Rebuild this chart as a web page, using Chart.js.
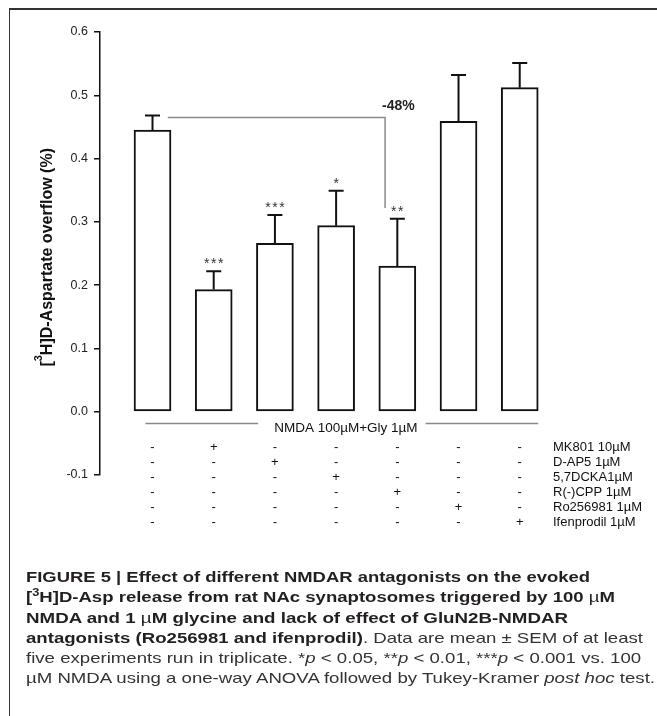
<!DOCTYPE html>
<html>
<head>
<meta charset="utf-8">
<script src="https://cdn.jsdelivr.net/npm/chart.js@4.4.1/dist/chart.umd.min.js"></script>
<style>
  html, body { margin: 0; padding: 0; background: #fff; }
  #wrap { position: relative; width: 657px; height: 716px; overflow: hidden; }
  #chart { position: absolute; left: 0; top: 0; }
  .frame { position: absolute; left: 9px; top: 8px; width: 700px; height: 760px;
           border-top: 2px solid #333; border-left: 1.5px solid #333; }
  .caption { position: absolute; left: 26px; top: 567px; font-family: 'Liberation Sans', Arial, sans-serif;
             font-size: 14.5px; line-height: 20.3px; color: #333; white-space: nowrap; }
  .caption div { transform-origin: 0 0; width: max-content; }
  .caption b { color: #231f20; }
  .caption .mu { font-weight: normal; }
  .caption sup { font-size: 10px; line-height: 0; }
</style>
</head>
<body>
<div id="wrap">
  <div class="frame"></div>
  <canvas id="chart" width="657" height="716"></canvas>
  <div class="caption" id="caption">
    <div data-end="590"><b>FIGURE 5 | Effect of different NMDAR antagonists on the evoked</b></div>
    <div data-end="615"><b>[<sup>3</sup>H]D-Asp release from rat NAc synaptosomes triggered by 100 <span class="mu">µ</span>M</b></div>
    <div data-end="568"><b>NMDA and 1 <span class="mu">µ</span>M glycine and lack of effect of GluN2B-NMDAR</b></div>
    <div data-end="643"><b>antagonists (Ro256981 and ifenprodil)</b>. Data are mean ± SEM of at least</div>
    <div data-like="5">five experiments run in triplicate. *<i>p</i> &lt; 0.05, **<i>p</i> &lt; 0.01, ***<i>p</i> &lt; 0.001 vs. 100</div>
    <div data-end="655">µM NMDA using a one-way ANOVA followed by Tukey-Kramer <i>post hoc</i> test.</div>
  </div>
</div>
<script>
'use strict';

// ---- data ----
const categories = ['NMDA', 'MK801', 'D-AP5', '5,7DCKA', 'R(-)CPP', 'Ro256981', 'Ifenprodil'];
const overflow   = [0.445, 0.193, 0.266, 0.294, 0.230, 0.459, 0.512];
const sem        = [0.023, 0.029, 0.045, 0.055, 0.075, 0.073, 0.039];
const stars      = ['', '***', '***', '*', '**', '', ''];
const yTicks     = [-0.1, 0.0, 0.1, 0.2, 0.3, 0.4, 0.5, 0.6];

const treatments = ['MK801 10µM', 'D-AP5 1µM', '5,7DCKA1µM', 'R(-)CPP 1µM', 'Ro256981 1µM', 'Ifenprodil 1µM'];
// one row per treatment, one sign per bar
const signs = [
  ['-', '+', '-', '-', '-', '-', '-'],
  ['-', '-', '+', '-', '-', '-', '-'],
  ['-', '-', '-', '+', '-', '-', '-'],
  ['-', '-', '-', '-', '+', '-', '-'],
  ['-', '-', '-', '-', '-', '+', '-'],
  ['-', '-', '-', '-', '-', '-', '+'],
];
const stimulus = 'NMDA 100µM+Gly 1µM';

// -48% bracket: NMDA bar vs R(-)CPP bar
const bracket = { from: 0, to: 4, level: 0.465, drop: 0.322, label: '-48%', labelAt: 0.483 };

const FONT = '"Liberation Sans", Arial, sans-serif';
const ink = '#111';

const annotate = {
  id: 'annotate',
  afterDatasetsDraw(chart) {
    const { ctx } = chart;
    const xs = chart.scales.x, ys = chart.scales.y;
    ctx.save();

    // error bars (upper whisker only)
    ctx.strokeStyle = ink;
    ctx.lineWidth = 2;
    overflow.forEach((v, i) => {
      const x = xs.getPixelForValue(i);
      const y0 = ys.getPixelForValue(v);
      const y1 = ys.getPixelForValue(v + sem[i]);
      ctx.beginPath();
      ctx.moveTo(x, y0); ctx.lineTo(x, y1);
      ctx.moveTo(x - 7.5, y1); ctx.lineTo(x + 7.5, y1);
      ctx.stroke();

      // significance stars
      if (stars[i]) {
        ctx.fillStyle = '#333';
        ctx.font = '14px ' + FONT;
        ctx.textAlign = 'center';
        ctx.textBaseline = 'alphabetic';
        const n = stars[i].length;
        for (let k = 0; k < n; k++) {
          ctx.fillText('*', x + (k - (n - 1) / 2) * 7, y1 - 3);
        }
      }
    });

    // bracket
    const bx0 = xs.getPixelForValue(bracket.from + 0.25);
    const bx1 = xs.getPixelForValue(bracket.to - 0.2);
    const by = ys.getPixelForValue(bracket.level);
    ctx.strokeStyle = '#8a8a8a';
    ctx.lineWidth = 1.5;
    ctx.beginPath();
    ctx.moveTo(bx0, by);
    ctx.lineTo(bx1, by);
    ctx.lineTo(bx1, ys.getPixelForValue(bracket.drop));
    ctx.stroke();
    ctx.fillStyle = '#222';
    ctx.font = 'bold 14px ' + FONT;
    ctx.textAlign = 'center';
    ctx.textBaseline = 'middle';
    ctx.fillText(bracket.label, xs.getPixelForValue(bracket.to) + 1, ys.getPixelForValue(bracket.labelAt));

    // stimulus band under the bars
    const left = xs.getPixelForValue(0) - 7;
    const right = xs.getPixelForValue(categories.length - 1) + 18.5;
    const bandY = 423.5;
    ctx.font = '13.5px ' + FONT;
    const tw = ctx.measureText(stimulus).width;
    const tc = (left + right) / 2 + 4;
    ctx.beginPath();
    ctx.moveTo(left, bandY); ctx.lineTo(tc - tw / 2 - 16, bandY);
    ctx.moveTo(tc + tw / 2 + 8, bandY); ctx.lineTo(right, bandY);
    ctx.stroke();
    ctx.fillStyle = ink;
    ctx.fillText(stimulus, tc, 428.5);

    // treatment table
    const rowTop = 447, rowStep = 15, labelX = 553;
    ctx.font = '13px ' + FONT;
    treatments.forEach((name, r) => {
      const y = rowTop + r * rowStep;
      ctx.textAlign = 'center';
      signs[r].forEach((s, i) => ctx.fillText(s, xs.getPixelForValue(i), y));
      ctx.textAlign = 'left';
      ctx.fillText(name, labelX, y);
    });

    // y axis title with superscript
    const main1 = '[', sup = '3', main2 = 'H]D-Aspartate overflow (%)';
    const big = 'bold 16px ' + FONT, small = 'bold 11px ' + FONT;
    ctx.font = big;
    const w1 = ctx.measureText(main1).width, w3 = ctx.measureText(main2).width;
    ctx.font = small;
    const w2 = ctx.measureText(sup).width;
    const total = w1 + w2 + w3;
    ctx.translate(52, ys.getPixelForValue(0.244));
    ctx.rotate(-Math.PI / 2);
    ctx.fillStyle = ink;
    ctx.textAlign = 'left';
    ctx.textBaseline = 'alphabetic';
    let cx = -total / 2;
    ctx.font = big; ctx.fillText(main1, cx, 0); cx += w1;
    ctx.font = small; ctx.fillText(sup, cx, -10); cx += w2;
    ctx.font = big; ctx.fillText(main2, cx, 0);

    ctx.restore();
  }
};

new Chart(document.getElementById('chart'), {
  type: 'bar',
  data: {
    datasets: [{
      data: overflow.map((v, i) => ({ x: i, y: v })),
      backgroundColor: '#fff',
      borderColor: ink,
      borderWidth: 2,
      borderSkipped: false,
      barThickness: 37,
    }]
  },
  options: {
    responsive: false,
    animation: false,
    devicePixelRatio: 1,
    layout: { padding: { left: 0, top: 32, right: 112, bottom: 241 } },
    plugins: { legend: { display: false }, tooltip: { enabled: false } },
    scales: {
      x: { type: 'linear', display: false, offset: false, min: -0.858, max: 6.413 },
      y: {
        min: -0.1,
        max: 0.6,
        afterFit: s => { s.width = 100; },
        afterBuildTicks: s => { s.ticks = yTicks.map(v => ({ value: v })); },
        grid: { drawOnChartArea: false, drawTicks: true, tickLength: 6, color: ink, lineWidth: 1.5 },
        border: { display: true, color: ink, width: 1.5 },
        ticks: { padding: 6, color: '#222', font: { family: FONT, size: 12.5 }, callback: v => v.toFixed(1) }
      }
    }
  },
  plugins: [annotate]
});

// fit caption lines to the widths measured on the figure
const lines = [...document.querySelectorAll('#caption > div')];
const scales = lines.map(el => el.dataset.end ? (el.dataset.end - 26) / el.getBoundingClientRect().width : null);
lines.forEach((el, i) => {
  const s = scales[i] !== null ? scales[i] : scales[+el.dataset.like];
  el.style.transform = 'scaleX(' + s + ')';
});
</script>
</body>
</html>
